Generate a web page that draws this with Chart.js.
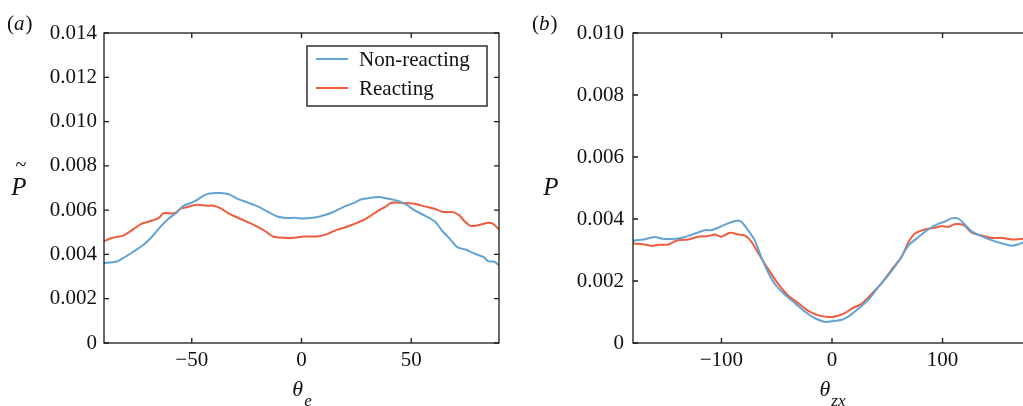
<!DOCTYPE html>
<html>
<head>
<meta charset="utf-8">
<script src="https://cdn.jsdelivr.net/npm/chart.js@4.4.0/dist/chart.umd.min.js"></script>
<style>
  html, body { margin: 0; padding: 0; background: #fff; overflow: hidden; }
  #wrapA { position: absolute; left: 0; top: 0; width: 512px; height: 406px; }
  #wrapB { position: absolute; left: 512px; top: 0; width: 519px; height: 406px; }
</style>
</head>
<body>
<div id="wrapA"><canvas id="chartA"></canvas></div>
<div id="wrapB"><canvas id="chartB"></canvas></div>
<script>
// panel (a): theta_e vs P~
var aNonX = [-90, -86, -84, -81, -77, -72, -68, -64, -61, -57, -54, -49, -45, -42, -37, -33, -29, -25, -20, -16, -11, -7, -2, 0, 6, 10, 15, 19, 24, 27, 30, 35, 39, 44, 48, 51, 56, 61, 64, 68, 71, 75, 79, 83, 85, 88, 90];
var aNonY = [0.00361, 0.00365, 0.00368, 0.00385, 0.0041, 0.00444, 0.00481, 0.00528, 0.00558, 0.00588, 0.00618, 0.00638, 0.00663, 0.00675, 0.00677, 0.00671, 0.00651, 0.00636, 0.00617, 0.00596, 0.00571, 0.00565, 0.00565, 0.00562, 0.00567, 0.00576, 0.00594, 0.00614, 0.00633, 0.00648, 0.00653, 0.00659, 0.00653, 0.00642, 0.00624, 0.00602, 0.00576, 0.00546, 0.00508, 0.00466, 0.00433, 0.00421, 0.00403, 0.00388, 0.0037, 0.00367, 0.0035];
var aReX = [-90, -86, -81, -77, -73, -68, -65, -63, -58, -55, -52, -48, -43, -40, -37, -33, -28, -22, -17, -13, -8, -4, 1, 7, 12, 16, 21, 25, 30, 35, 38, 41, 45, 51, 56, 61, 64, 69, 72, 74, 77, 80, 85, 87, 90];
var aReY = [0.0046, 0.00475, 0.00486, 0.00511, 0.00538, 0.00553, 0.00565, 0.00586, 0.00586, 0.00607, 0.00614, 0.00624, 0.0062, 0.0062, 0.00609, 0.00584, 0.00561, 0.00535, 0.00508, 0.00481, 0.00475, 0.00475, 0.00481, 0.00481, 0.00493, 0.00511, 0.00526, 0.00541, 0.00565, 0.00598, 0.00614, 0.00633, 0.00633, 0.0063, 0.00617, 0.00605, 0.00593, 0.00591, 0.00576, 0.00553, 0.00529, 0.00531, 0.00543, 0.0054, 0.00513];

// panel (b): theta_zx vs P
var bNonX = [-180, -169, -160, -153, -142, -133, -124, -115, -109, -101, -94, -86, -82, -76, -70, -64, -58, -52, -43, -33, -24, -15, -6, 0, 9, 15, 24, 33, 42, 51, 60, 69, 78, 87, 96, 102, 108, 114, 119, 126, 135, 144, 154, 163, 169, 173, 180];
var bNonY = [0.0033, 0.00335, 0.00342, 0.00336, 0.00336, 0.00342, 0.00353, 0.00364, 0.00364, 0.00375, 0.00386, 0.00394, 0.00391, 0.00364, 0.00332, 0.00278, 0.0023, 0.00192, 0.00157, 0.00127, 0.001, 0.00079, 0.00068, 0.0007, 0.00075, 0.00086, 0.00111, 0.0014, 0.00181, 0.00219, 0.00262, 0.00314, 0.00341, 0.00366, 0.00384, 0.00392, 0.00402, 0.00402, 0.00386, 0.00361, 0.00345, 0.00332, 0.00321, 0.00314, 0.00319, 0.00324, 0.00328];
var bReX = [-180, -169, -163, -157, -148, -139, -130, -121, -112, -106, -100, -92, -85, -79, -73, -67, -61, -55, -49, -40, -30, -21, -12, -3, 4, 12, 18, 27, 36, 45, 54, 63, 69, 75, 84, 93, 99, 105, 111, 119, 126, 135, 144, 154, 163, 169, 173, 180];
var bReY = [0.00321, 0.00318, 0.00313, 0.00317, 0.00318, 0.00332, 0.00334, 0.00343, 0.00345, 0.0035, 0.00343, 0.00356, 0.0035, 0.00347, 0.00327, 0.00292, 0.00256, 0.00224, 0.00192, 0.00154, 0.00127, 0.00103, 0.00089, 0.00084, 0.00086, 0.00097, 0.00111, 0.00127, 0.00159, 0.00194, 0.00237, 0.00278, 0.00324, 0.00353, 0.00366, 0.00372, 0.00377, 0.00375, 0.00383, 0.0038, 0.00357, 0.00347, 0.00339, 0.00339, 0.00334, 0.00335, 0.00336, 0.00335];

var seriesNames = ['Non-reacting', 'Reacting'];
var aXTicks = [-50, 0, 50];
var aYTicks = [0, 0.002, 0.004, 0.006, 0.008, 0.010, 0.012, 0.014];
var bXTicks = [-100, 0, 100];
var bYTicks = [0, 0.002, 0.004, 0.006, 0.008, 0.010];

var BLUE = '#62a3d3';
var RED = '#ee5b3e';
var SERIF = '"Liberation Serif", "Times New Roman", serif';

function pts(xs, ys) {
    return xs.map(function(x, i) { return { x: x, y: ys[i] }; });
}

function fmtX(v) { return String(v).replace('-', '\u2212'); }
function fmtY(v) { return v === 0 ? '0' : v.toFixed(3); }

// box, inward ticks, axis titles, panel letter, legend
var framePlugin = {
    id: 'frame',
    afterDraw: function(chart, args, opts) {
        var ctx = chart.ctx;
        var ca = chart.chartArea;
        var xs = chart.scales.x, ys = chart.scales.y;
        ctx.save();
        ctx.strokeStyle = '#1a1a1a';
        ctx.lineWidth = 1.3;
        ctx.strokeRect(ca.left, ca.top, ca.right - ca.left, ca.bottom - ca.top);
        var tl = 5;
        ctx.beginPath();
        xs.ticks.forEach(function(t) {
            var px = xs.getPixelForValue(t.value);
            ctx.moveTo(px, ca.bottom); ctx.lineTo(px, ca.bottom - tl);
            ctx.moveTo(px, ca.top); ctx.lineTo(px, ca.top + tl);
        });
        ys.ticks.forEach(function(t) {
            var py = ys.getPixelForValue(t.value);
            ctx.moveTo(ca.left, py); ctx.lineTo(ca.left + tl, py);
            ctx.moveTo(ca.right, py); ctx.lineTo(ca.right - tl, py);
        });
        ctx.stroke();

        ctx.fillStyle = '#111';
        ctx.textBaseline = 'middle';
        // panel letter "(a)"
        ctx.font = '21px ' + SERIF;
        var lx = opts.letterX;
        ctx.textAlign = 'left';
        ctx.fillText('(', lx, 24);
        var w1 = ctx.measureText('(').width;
        ctx.font = 'italic 21px ' + SERIF;
        ctx.fillText(opts.letter, lx + w1, 24);
        var w2 = ctx.measureText(opts.letter).width;
        ctx.font = '21px ' + SERIF;
        ctx.fillText(')', lx + w1 + w2 + 1, 24);

        // x title: theta with subscript
        var cx = (ca.left + ca.right) / 2;
        ctx.font = 'italic 22px ' + SERIF;
        var tw = ctx.measureText('\u03b8').width;
        ctx.font = 'italic 17px ' + SERIF;
        var sw = ctx.measureText(opts.sub).width;
        var x0 = cx - (tw + sw) / 2;
        ctx.font = 'italic 22px ' + SERIF;
        ctx.fillText('\u03b8', x0, 390);
        ctx.font = 'italic 17px ' + SERIF;
        ctx.fillText(opts.sub, x0 + tw + 1, 402);

        // y title
        var cy = (ca.top + ca.bottom) / 2;
        ctx.font = 'italic 25px ' + SERIF;
        ctx.textAlign = 'center';
        ctx.fillText('P', opts.yTitleX, cy);
        if (opts.tilde) {
            ctx.font = '20px ' + SERIF;
            ctx.fillText('~', opts.yTitleX + 2, cy - 22);
        }

        // legend inside the plot
        if (opts.legend) {
            var L = opts.legend;
            ctx.lineWidth = 1.3;
            ctx.strokeStyle = '#111';
            ctx.strokeRect(L.x, L.y, L.w, L.h);
            ctx.font = '21px ' + SERIF;
            ctx.textAlign = 'left';
            chart.data.datasets.forEach(function(ds, i) {
                var ry = L.y + 13 + i * 29;
                ctx.strokeStyle = ds.borderColor;
                ctx.lineWidth = 2;
                ctx.beginPath();
                ctx.moveTo(L.x + 9, ry); ctx.lineTo(L.x + 41, ry);
                ctx.stroke();
                ctx.fillStyle = '#111';
                ctx.fillText(ds.label, L.x + 52, ry + 1);
            });
        }
        ctx.restore();
    }
};

function makeChart(id, sets, xMin, xMax, xTicks, yMax, yTicks, yWidth, padRight, yPad, frame) {
    return new Chart(document.getElementById(id), {
        type: 'line',
        data: {
            datasets: [
                { label: seriesNames[0], data: sets[0], borderColor: BLUE, borderWidth: 2, pointRadius: 0, tension: 0.25, fill: false },
                { label: seriesNames[1], data: sets[1], borderColor: RED, borderWidth: 2, pointRadius: 0, tension: 0.25, fill: false }
            ]
        },
        options: {
            responsive: true,
            maintainAspectRatio: false,
            animation: false,
            layout: { padding: { left: 0, top: 33, right: padRight, bottom: 0 } },
            plugins: {
                legend: { display: false },
                tooltip: { enabled: false },
                frame: frame
            },
            scales: {
                x: {
                    type: 'linear',
                    min: xMin, max: xMax,
                    grid: { display: false, drawTicks: false },
                    border: { display: false },
                    afterBuildTicks: function(s) { s.ticks = xTicks.map(function(v) { return { value: v }; }); },
                    afterFit: function(s) { s.height = 63; },
                    ticks: { color: '#111', padding: 5, maxRotation: 0, font: { family: SERIF, size: 21 }, callback: fmtX }
                },
                y: {
                    min: 0, max: yMax,
                    grid: { display: false, drawTicks: false },
                    border: { display: false },
                    afterBuildTicks: function(s) { s.ticks = yTicks.map(function(v) { return { value: v }; }); },
                    afterFit: function(s) { s.width = yWidth; },
                    ticks: { color: '#111', padding: yPad, font: { family: SERIF, size: 21 }, callback: fmtY }
                }
            }
        },
        plugins: [framePlugin]
    });
}

makeChart('chartA', [pts(aNonX, aNonY), pts(aReX, aReY)], -90, 90, aXTicks, 0.014, aYTicks, 104, 13, 7,
    { letter: 'a', letterX: 7, sub: 'e', yTitleX: 19, tilde: true,
      legend: { x: 307, y: 46, w: 180, h: 60 } });
makeChart('chartB', [pts(bNonX, bNonY), pts(bReX, bReY)], -180, 180, bXTicks, 0.010, bYTicks, 121, 0, 9,
    { letter: 'b', letterX: 20, sub: 'zx', yTitleX: 39, tilde: false });
</script>
</body>
</html>
